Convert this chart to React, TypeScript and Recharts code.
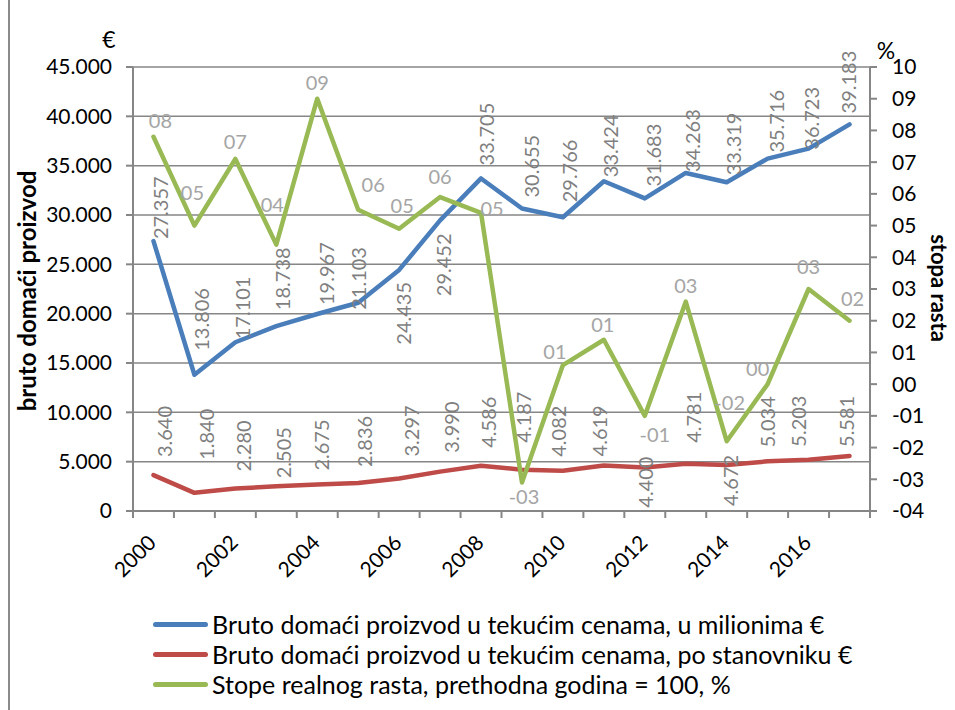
import React from 'react';
import { LineChart, Line, XAxis, YAxis, CartesianGrid, LabelList } from 'recharts';

// ---------- data ----------
const years = ['2000', '2001', '2002', '2003', '2004', '2005', '2006', '2007', '2008', '2009', '2010', '2011', '2012', '2013', '2014', '2015', '2016', '2017'];
const gdpMillions = [27357, 13806, 17101, 18738, 19967, 21103, 24435, 29452, 33705, 30655, 29766, 33424, 31683, 34263, 33319, 35716, 36723, 39183];
const gdpPerCapita = [3640, 1840, 2280, 2505, 2675, 2836, 3297, 3990, 4586, 4187, 4082, 4619, 4400, 4781, 4672, 5034, 5203, 5581];
const growthRate = [7.8, 5.0, 7.1, 4.4, 9.0, 5.5, 4.9, 5.9, 5.4, -3.1, 0.6, 1.4, -1.0, 2.6, -1.8, 0.0, 3.0, 2.0];
const leftTicks = [0, 5000, 10000, 15000, 20000, 25000, 30000, 35000, 40000, 45000];
const rightTicks = [-4, -3, -2, -1, 0, 1, 2, 3, 4, 5, 6, 7, 8, 9, 10];
const seriesNames = [
  'Bruto domaći proizvod u tekućim cenama, u milionima €',
  'Bruto domaći proizvod u tekućim cenama, po stanovniku €',
  'Stope realnog rasta, prethodna godina = 100, %',
];
const leftTitle = 'bruto domaći proizvod';
const rightTitle = 'stopa rasta';
const leftUnit = '€';
const rightUnit = '%';

// ---------- styles / label layout ----------
const FONT = 'Lato, "Noto Sans", sans-serif';
const AXIS = '#868686';
const BLUE = '#4A7EBB';
const RED = '#BE4B48';
const GREEN = '#98B954';
const LABEL_GRAY = '#7F7F7F';
const LABEL_LIGHT = '#A5A5A5';
const LABEL_SIZE = 20;
const TICK_SIZE = 21;

// label nudges relative to the point: [dx, dy, anchor]
const blueNudge: [number, number, string][] = [
  [8, -2, 's'], [8, -24, 's'], [8, -3, 's'], [7, -16, 's'], [10, -9, 's'], [1, 7, 's'],
  [5, 12, 'e'], [4, 13, 'e'], [6, -13, 's'], [10, -11, 's'], [7, -15, 's'], [7, -4, 's'],
  [9, -12, 's'], [7, -1, 's'], [7, -7, 's'], [9, -6, 's'], [3, 1, 's'], [-1, -11, 's'],
];
const redNudge: [number, number, string][] = [
  [12, -18, 's'], [13, -33, 's'], [9, -17, 's'], [8, -8, 's'], [5, -14, 's'], [7, -16, 's'],
  [13, -22, 's'], [12, -19, 's'], [8, -18, 's'], [2, -27, 's'], [-4, -14, 's'], [-4, -9, 's'],
  [1, -11, 'e'], [8, -21, 's'], [4, -10, 'e'], [0, -14, 's'], [-10, -13, 's'], [-3, -9, 's'],
];
const greenNudge: [number, number][] = [
  [7, -16], [-2, -33], [0, -17], [-4, -40], [0, -16], [15, -25], [3, -23], [0, -20], [11, -4],
  [2, 15], [-8, -13], [-1, -15], [10, 19], [0, -16], [3, -38], [-10, -15], [0, -22], [3, -22],
];

const rows = years.map((year, i) => ({
  x: i + 0.5,
  year,
  gdp: gdpMillions[i],
  pc: gdpPerCapita[i],
  gr: growthRate[i],
}));
const xTicks: number[] = [];
years.forEach((_, i) => { xTicks.push(i, i + 0.5); });
xTicks.push(years.length);

const fmtThousands = (v: number) => String(v).replace(/\B(?=(\d{3})+(?!\d))/g, '.');
const fmtPct = (v: number) => {
  const r = Math.round(v);
  const s = String(Math.abs(r)).padStart(2, '0');
  return (r < 0 ? '-' : '') + s;
};

const makeVerticalLabel = (nudge: [number, number, string][]) => (props: any) => {
  const { x, y, value, index } = props;
  if (x == null || y == null) return null;
  const [dx, dy, a] = nudge[index] || [6, -8, 's'];
  const ax = x + dx;
  const ay = y + dy;
  return (
    <text
      x={ax}
      y={ay}
      dy="0.35em"
      transform={`rotate(-90, ${ax}, ${ay})`}
      textAnchor={a === 'e' ? 'end' : 'start'}
      fontSize={LABEL_SIZE}
      fontFamily={FONT}
      fill={LABEL_GRAY}
    >
      {fmtThousands(value)}
    </text>
  );
};

const GreenLabel = (props: any) => {
  const { x, y, value, index } = props;
  if (x == null || y == null) return null;
  const [dx, dy] = greenNudge[index] || [0, -16];
  return (
    <text x={x + dx} y={y + dy} dy="0.35em" textAnchor="middle" fontSize={LABEL_SIZE} fontFamily={FONT} fill={LABEL_LIGHT}>
      {fmtPct(value)}
    </text>
  );
};

const XTick = (props: any) => {
  const { x, y, payload } = props;
  const v = payload.value as number;
  if (Number.isInteger(v)) {
    return <line x1={x} x2={x} y1={y} y2={y + 7} stroke={AXIS} strokeWidth={2} />;
  }
  const i = Math.floor(v);
  if (i % 2 !== 0) return <g />;
  const ax = x + 4;
  const ay = y + 33;
  return (
    <text x={ax} y={ay} transform={`rotate(-45, ${ax}, ${ay})`} textAnchor="end" fontSize={TICK_SIZE} fontFamily={FONT} fill="#000">
      {years[i]}
    </text>
  );
};

const colors = [BLUE, RED, GREEN];

export default function App() {
  return (
    <div style={{ position: 'absolute', left: 0, top: 0, width: 955, height: 710, fontFamily: FONT, background: '#fff' }}>
      <div style={{ position: 'absolute', left: 8, top: 0, width: 2, height: 710, background: '#8A8A8A' }} />
      <LineChart width={955} height={710} data={rows} margin={{ top: 67, right: 0, bottom: 0, left: 0 }}>
        <CartesianGrid xAxisId="x" yAxisId="left" vertical={false} stroke={AXIS} strokeWidth={1.5} />
        <XAxis
          xAxisId="x"
          type="number"
          dataKey="x"
          domain={[0, years.length]}
          ticks={xTicks}
          interval={0}
          height={199}
          tickSize={0}
          tickMargin={0}
          tickLine={false}
          axisLine={{ stroke: AXIS, strokeWidth: 2 }}
          tick={<XTick />}
        />
        <YAxis
          yAxisId="left"
          width={133}
          domain={[0, 45000]}
          ticks={leftTicks}
          interval={0}
          tickFormatter={fmtThousands}
          tickSize={7}
          tickMargin={14}
          tickLine={{ stroke: AXIS, strokeWidth: 2 }}
          axisLine={{ stroke: AXIS, strokeWidth: 2 }}
          tick={{ fontSize: TICK_SIZE, fontFamily: FONT, fill: '#000' }}
        />
        <YAxis
          yAxisId="right"
          orientation="right"
          width={85}
          domain={[-4, 10]}
          ticks={rightTicks}
          interval={0}
          tickFormatter={fmtPct}
          tickSize={7}
          tickMargin={15}
          tickLine={{ stroke: AXIS, strokeWidth: 2 }}
          axisLine={{ stroke: AXIS, strokeWidth: 2 }}
          tick={{ fontSize: TICK_SIZE, fontFamily: FONT, fill: '#000', textAnchor: 'start' }}
        />
        <Line xAxisId="x" yAxisId="left" dataKey="gdp" type="linear" stroke={BLUE} strokeWidth={4.5} strokeLinejoin="round" strokeLinecap="round" dot={false} activeDot={false} isAnimationActive={false}>
          <LabelList dataKey="gdp" content={makeVerticalLabel(blueNudge)} />
        </Line>
        <Line xAxisId="x" yAxisId="left" dataKey="pc" type="linear" stroke={RED} strokeWidth={4.5} strokeLinejoin="round" strokeLinecap="round" dot={false} activeDot={false} isAnimationActive={false}>
          <LabelList dataKey="pc" content={makeVerticalLabel(redNudge)} />
        </Line>
        <Line xAxisId="x" yAxisId="right" dataKey="gr" type="linear" stroke={GREEN} strokeWidth={4.5} strokeLinejoin="round" strokeLinecap="round" dot={false} activeDot={false} isAnimationActive={false}>
          <LabelList dataKey="gr" content={<GreenLabel />} />
        </Line>
      </LineChart>
      <svg width={955} height={710} style={{ position: 'absolute', left: 0, top: 0, pointerEvents: 'none' }}>
        <text x={109} y={40} dy="0.35em" textAnchor="middle" fontSize={23} fontFamily={FONT} fill="#000">{leftUnit}</text>
        <text x={886} y={51} dy="0.35em" textAnchor="middle" fontSize={23} fontFamily={FONT} fill="#000">{rightUnit}</text>
        <text x={28} y={291} dy="0.35em" transform="rotate(-90, 28, 291)" textAnchor="middle" fontSize={24} fontWeight="bold" fontFamily={FONT} fill="#000">{leftTitle}</text>
        <text x={939} y={288} dy="0.35em" transform="rotate(90, 939, 288)" textAnchor="middle" fontSize={22} fontWeight="bold" fontFamily={FONT} fill="#000">{rightTitle}</text>
      </svg>
      {seriesNames.map((name, i) => (
        <div key={name} style={{ position: 'absolute', left: 153, top: 624 + i * 30 - 15, height: 30, display: 'flex', alignItems: 'center', whiteSpace: 'nowrap' }}>
          <span style={{ display: 'inline-block', width: 55, height: 5, borderRadius: 3, background: colors[i] }} />
          <span style={{ marginLeft: 4, fontSize: 25, color: '#000', fontFamily: FONT }}>{name}</span>
        </div>
      ))}
    </div>
  );
}
